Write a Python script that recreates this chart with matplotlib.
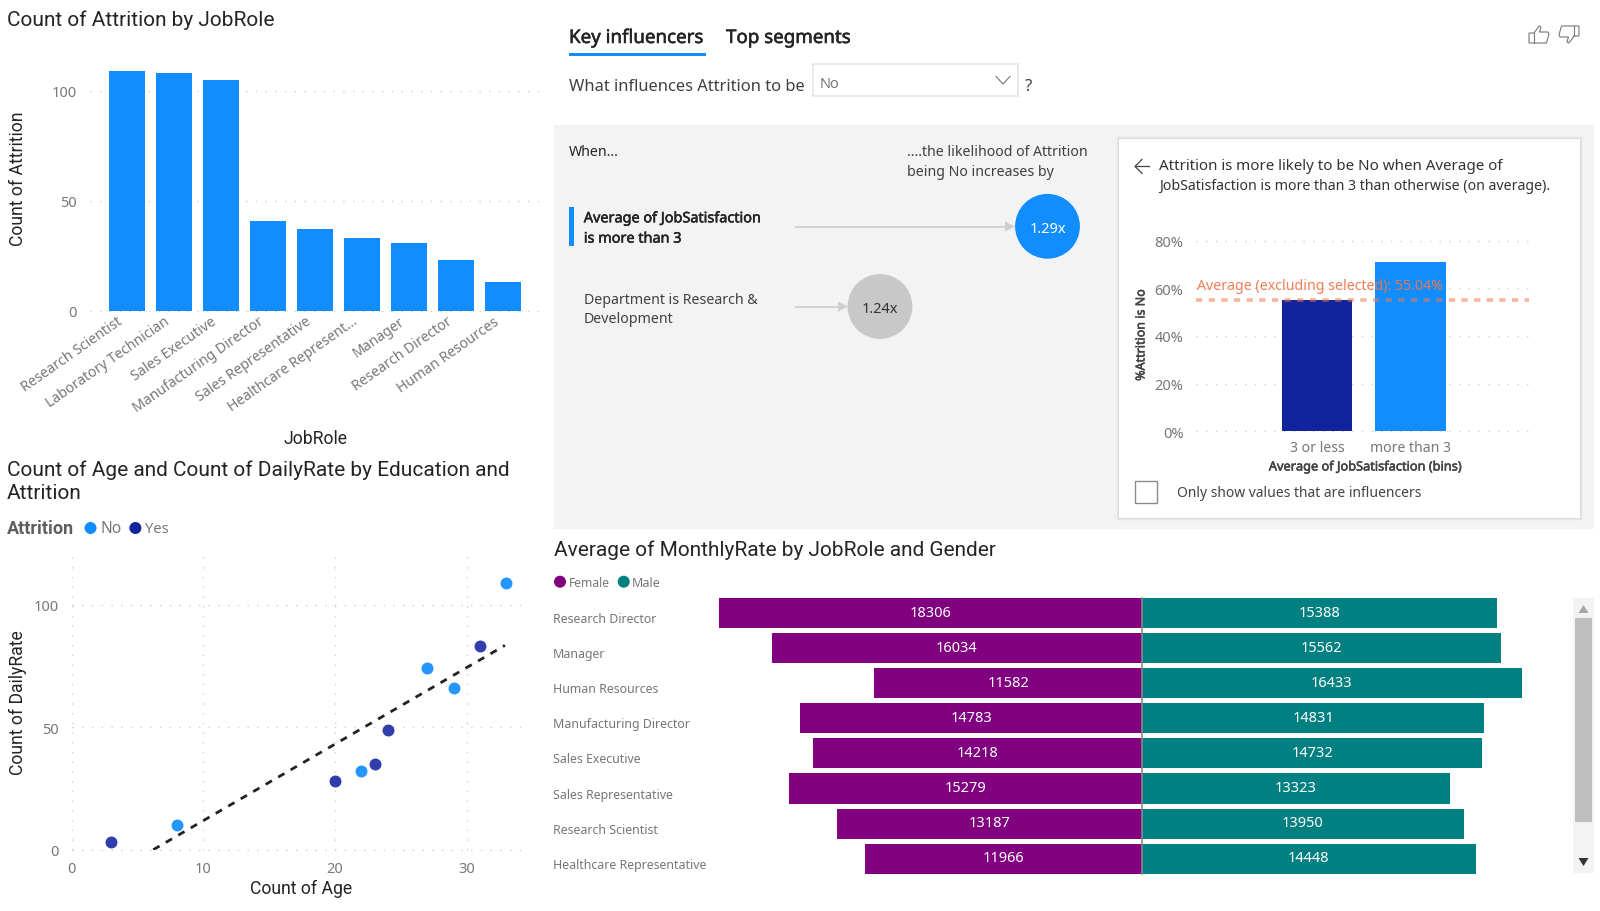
import matplotlib
matplotlib.use('Agg')
import matplotlib.pyplot as plt
import matplotlib.patheffects as pe
from matplotlib.patches import Rectangle, Circle, Polygon
from matplotlib.transforms import ScaledTranslation

W, H = 1600, 912

BLUE = '#118DFF'
NAVY = '#12239E'
PURPLE = '#800080'
TEAL = '#008080'
GRID = '#CFCFCF'
GREY_TEXT = '#777777'
DARK_TEXT = '#252423'
HEAD_FONT = 'Roboto'
BODY_FONT = 'Noto Sans'

# Attrition by job role
roles = ['Research Scientist', 'Laboratory Technician', 'Sales Executive',
         'Manufacturing Director', 'Sales Representative', 'Healthcare Represent...',
         'Manager', 'Research Director', 'Human Resources']
attrition_counts = [109, 108, 105, 41, 37, 33, 31, 23, 13]

# Age / daily rate counts by education
age_no = [8, 22, 27, 29, 33]
rate_no = [10, 32, 74, 66, 109]
age_yes = [3, 20, 23, 24, 31]
rate_yes = [3, 28, 35, 49, 83]
trend_age = [6.2, 32.9]
trend_rate = [0, 83.4]

# Key influencer detail
bin_names = ['3 or less', 'more than 3']
bin_pct = [55.04, 71]
avg_pct = 55.04

# Monthly rate by role and gender
rate_roles = ['Research Director', 'Manager', 'Human Resources', 'Manufacturing Director',
              'Sales Executive', 'Sales Representative', 'Research Scientist',
              'Healthcare Representative']
female_rate = [18306, 16034, 11582, 14783, 14218, 15279, 13187, 11966]
male_rate = [15388, 15562, 16433, 14831, 14732, 13323, 13950, 14448]

fig = plt.figure(figsize=(W / 100, H / 100), dpi=100, facecolor='white')


def axes_px(left, top, right, bottom):
    ax = fig.add_axes([left / W, 1 - bottom / H, (right - left) / W, (bottom - top) / H])
    ax.patch.set_alpha(0)
    for s in ax.spines.values():
        s.set_visible(False)
    ax.tick_params(length=0, labelcolor=GREY_TEXT, labelsize=10.5)
    ax.set_axisbelow(True)
    return ax


# Background layer in pixel coordinates for titles and panel furniture
ui = fig.add_axes([0, 0, 1, 1], zorder=0)
ui.set_xlim(0, W)
ui.set_ylim(H, 0)
ui.axis('off')


def label(x, y, s, size=10.2, color=DARK_TEXT, font=BODY_FONT, ha='left', heavy=0, **kw):
    t = ui.text(x, y + 1.5, s, fontsize=size, color=color, family=font, ha=ha, va='center', **kw)
    if heavy:
        # the body font has no semibold cut here, so thicken the outline a little
        t.set_path_effects([pe.withStroke(linewidth=heavy, foreground=color)])
    return t


def legend_dot(x, y, color):
    ui.add_patch(Circle((x, y), 6, color=color, lw=0))


# Chart titles
label(7, 19, 'Count of Attrition by JobRole', 15, font=HEAD_FONT)
label(7, 469, 'Count of Age and Count of DailyRate by Education and', 15, font=HEAD_FONT)
label(7, 492.5, 'Attrition', 15, font=HEAD_FONT)
label(554, 549, 'Average of MonthlyRate by JobRole and Gender', 15, font=HEAD_FONT)

# Bar chart
ax1 = axes_px(89.5, 59, 540, 311.7)
ax1.bar(range(len(roles)), attrition_counts, width=0.777, color=BLUE)
ax1.set_xlim(-0.798, 8.787)
ax1.set_ylim(0, 115)
ax1.set_yticks([0, 50, 100])
ax1.yaxis.grid(True, color=GRID, lw=1, ls=(0, (1, 6)), clip_on=False)
ax1.tick_params(axis='y', pad=9)
ax1.set_xticks(range(len(roles)))
ax1.set_xticklabels(roles, rotation=35, ha='right', rotation_mode='anchor', family=BODY_FONT, fontsize=10.1)
ax1.tick_params(axis='x', pad=2)
shift = ScaledTranslation(-10 / 100, 0, fig.dpi_scale_trans)
for t in ax1.get_xticklabels():
    t.set_transform(t.get_transform() + shift)
for t in ax1.get_yticklabels():
    t.set_family(BODY_FONT)
label(18, 177.5, 'Count of Attrition', 12.7, font=HEAD_FONT, rotation=90, ha='center')
label(315, 438, 'JobRole', 12.7, font=HEAD_FONT, ha='center')

# Scatter chart
label(7, 528, 'Attrition', 13, color='#605E5C', font=HEAD_FONT, fontweight='bold')
legend_dot(90.5, 529, BLUE)
label(100, 528, 'No', 11.2, color=GREY_TEXT)
legend_dot(135.4, 529, NAVY)
label(144.6, 528, 'Yes', 10.6, color=GREY_TEXT)

ax2 = axes_px(71.6, 556.7, 528, 850.7)
ax2.scatter(age_no, rate_no, s=74, color=BLUE, alpha=0.92, lw=0, clip_on=False, zorder=3)
ax2.scatter(age_yes, rate_yes, s=74, color=NAVY, alpha=0.88, lw=0, clip_on=False, zorder=3)
ax2.plot(trend_age, trend_rate, color='#222222', lw=2, ls=(0, (2.6, 2.6)), zorder=4)
ax2.set_xlim(0, 34.65)
ax2.set_ylim(0, 120)
ax2.set_xticks([0, 10, 20, 30])
ax2.set_yticks([0, 50, 100])
ax2.grid(True, color=GRID, lw=1, ls=(0, (1, 6)), clip_on=False)
ax2.tick_params(axis='y', pad=9)
ax2.tick_params(axis='x', pad=8)
for t in ax2.get_xticklabels() + ax2.get_yticklabels():
    t.set_family(BODY_FONT)
label(18, 701.5, 'Count of DailyRate', 12.7, font=HEAD_FONT, rotation=90, ha='center')
label(301, 887, 'Count of Age', 12.7, font=HEAD_FONT, ha='center')

# Key influencers header
label(569, 37.5, 'Key influencers', 13.5, heavy=0.4)
label(726, 37.5, 'Top segments', 13.5, heavy=0.4)
ui.add_patch(Rectangle((569, 54), 137, 2.5, color=BLUE, lw=0))
label(569, 85.4, 'What influences Attrition to be', 11.9, color='#404040')
ui.add_patch(Rectangle((812.5, 64.5), 205.5, 32, fc='white', ec='#E6E6E6', lw=1.2))
label(820, 82.6, 'No', 10.5, color=GREY_TEXT)
ui.plot([996, 1003, 1010], [77.5, 85, 77.5], color='#777777', lw=0.8)
label(1025, 85.4, '?', 12, color='#404040')

# Thumbs icons
thumb = [(0, 7), (5, 7), (10, 0), (12, 1), (10.5, 6), (19, 6), (20, 8), (17.5, 17), (5, 17), (0, 17)]
ui.add_patch(Polygon([(1529 + x, 27 + y) for x, y in thumb], fc='none', ec='#777777', lw=0.8))
ui.plot([1534, 1534], [34, 44], color='#777777', lw=0.8)
ui.add_patch(Polygon([(1579 - x, 44 - y) for x, y in thumb], fc='none', ec='#777777', lw=0.8))
ui.plot([1574, 1574], [27, 37], color='#777777', lw=0.8)

# Influencer panel
ui.add_patch(Rectangle((554, 125.5), 1040, 404.5, color='#F3F3F3', lw=0))
label(569, 150.8, 'When...')
label(906.7, 150.8, '....the likelihood of Attrition', color='#404040')
label(906.7, 171, 'being No increases by', color='#404040')
ui.add_patch(Rectangle((569, 207.6), 4.6, 39.7, color=BLUE, lw=0))
label(583.8, 218.3, 'Average of JobSatisfaction', 10.4, heavy=0.4)
label(583.8, 238.6, 'is more than 3', 10.4, heavy=0.4)
label(583.8, 298.6, 'Department is Research &', color='#404040')
label(583.8, 318.5, 'Development', color='#404040')

ui.plot([796, 1008], [227.5, 227.5], color='#D2D2D2', lw=1.4)
ui.add_patch(Polygon([(1005, 222.5), (1015, 227.5), (1005, 232.5)], color='#CFCFCF', lw=0))
ui.add_patch(Circle((1047.5, 227.3), 32.4, color=BLUE, lw=0))
label(1047.5, 228, '1.29x', 10.5, color='white', ha='center')
ui.plot([796, 840], [307.5, 307.5], color='#D2D2D2', lw=1.4)
ui.add_patch(Polygon([(838, 302.5), (848, 307.5), (838, 312.5)], color='#CFCFCF', lw=0))
ui.add_patch(Circle((880, 307.5), 32.4, color='#C8C8C8', lw=0))
label(880, 308, '1.24x', 10.5, color='#333333', ha='center')

# Detail card with a soft shadow
for grow, alpha in [(3, 0.015), (2, 0.03), (1, 0.05)]:
    ui.add_patch(Rectangle((1119.3 - grow, 139.5 - grow), 460.7 + 2 * grow, 379.5 + 2 * grow,
                           fc='black', alpha=alpha, lw=0))
ui.add_patch(Rectangle((1119.3, 139.5), 460.7, 379.5, fc='white', lw=0))
ui.plot([1149, 1135], [167.4, 167.4], color='#444444', lw=0.9)
ui.plot([1142, 1135, 1142], [160.4, 167.4, 174.4], color='#444444', lw=0.9)
label(1159.3, 165, 'Attrition is more likely to be No when Average of', 10.9, color='#333333')
label(1159.3, 185, 'JobSatisfaction is more than 3 than otherwise (on average).', 10.2, color='#333333')

ax3 = axes_px(1196, 232, 1529, 432.2)
ax3.bar([0, 1], bin_pct, width=0.759, color=[NAVY, BLUE])
ax3.set_xlim((1196 - 1317) / 93.3, (1529 - 1317) / 93.3)
ax3.set_ylim(0, 84.1)
ax3.set_yticks([0, 20, 40, 60, 80])
ax3.set_yticklabels(['0%', '20%', '40%', '60%', '80%'], family=BODY_FONT)
ax3.yaxis.grid(True, color=GRID, lw=1, ls=(0, (1, 6)), clip_on=False)
ax3.tick_params(axis='y', pad=9)
ax3.set_xticks([0, 1])
ax3.set_xticklabels(bin_names, family=BODY_FONT, fontsize=10.1)
ax3.tick_params(axis='x', pad=6)
ax3.axhline(avg_pct, color='#F2794C', alpha=0.55, lw=2.6, ls=(0, (1.75, 1.75)), zorder=4)
ax3.text((1197 - 1317) / 93.3, avg_pct + 6.0, f'Average (excluding selected): {avg_pct}%',
         color='#F0764A', alpha=0.95, fontsize=10.2, family=BODY_FONT, va='center', zorder=5)
label(1141, 334.5, '%Attrition is No', 9, color='#444444', rotation=90, ha='center', heavy=0.4)
label(1365.7, 466.5, 'Average of JobSatisfaction (bins)', 9.2, color='#444444', ha='center', heavy=0.4)
ui.add_patch(Rectangle((1135, 482.4), 21.7, 21.6, fc='white', ec='#8A8A8A', lw=1))
label(1176.7, 492, 'Only show values that are influencers', 10, color='#444444')

# Diverging monthly rate bars
legend_dot(560, 582.7, PURPLE)
label(568.5, 582.5, 'Female', 8.7, color=GREY_TEXT)
legend_dot(623.7, 582.7, TEAL)
label(632, 582.5, 'Male', 9, color=GREY_TEXT)

ax4 = axes_px(553, 596.45, 1530, 877.25)
rows = range(len(rate_roles))
ax4.barh(rows, [-v for v in female_rate], height=0.855, color=PURPLE)
ax4.barh(rows, male_rate, height=0.855, color=TEAL)
ax4.set_xlim((553 - 1141.9) / 0.0231, (1530 - 1141.9) / 0.0231)
ax4.set_ylim(7.5, -0.5)
ax4.set_xticks([])
ax4.set_yticks([])
ax4.plot([0, 0], [-0.43, 7.43], color='#888888', lw=1.2)
for i, role in enumerate(rate_roles):
    ax4.annotate(role, xy=(0, i), xycoords=ax4.get_yaxis_transform(), xytext=(0, -4),
                 textcoords='offset points', fontsize=8.9, color=GREY_TEXT, family=BODY_FONT, va='center')
    ax4.annotate(str(female_rate[i]), xy=(-female_rate[i] / 2, i), xytext=(0, 0.6), textcoords='offset points',
                 ha='center', va='center', color='white', fontsize=10.5, family=BODY_FONT)
    ax4.annotate(str(male_rate[i]), xy=(male_rate[i] / 2, i), xytext=(0, 0.6), textcoords='offset points',
                 ha='center', va='center', color='white', fontsize=10.5, family=BODY_FONT)

# Scrollbar
ui.add_patch(Rectangle((1573, 599), 20.5, 275, color='#F3F3F3', lw=0))
ui.add_patch(Rectangle((1575, 619), 16.5, 204, color='#BFBFBF', lw=0))
ui.add_patch(Polygon([(1578.5, 614), (1583.5, 606), (1588.5, 614)], color='#A6A6A6', lw=0))
ui.add_patch(Polygon([(1578.5, 859), (1583.5, 867), (1588.5, 859)], color='#333333', lw=0))

fig.savefig('out.png', dpi=100)
